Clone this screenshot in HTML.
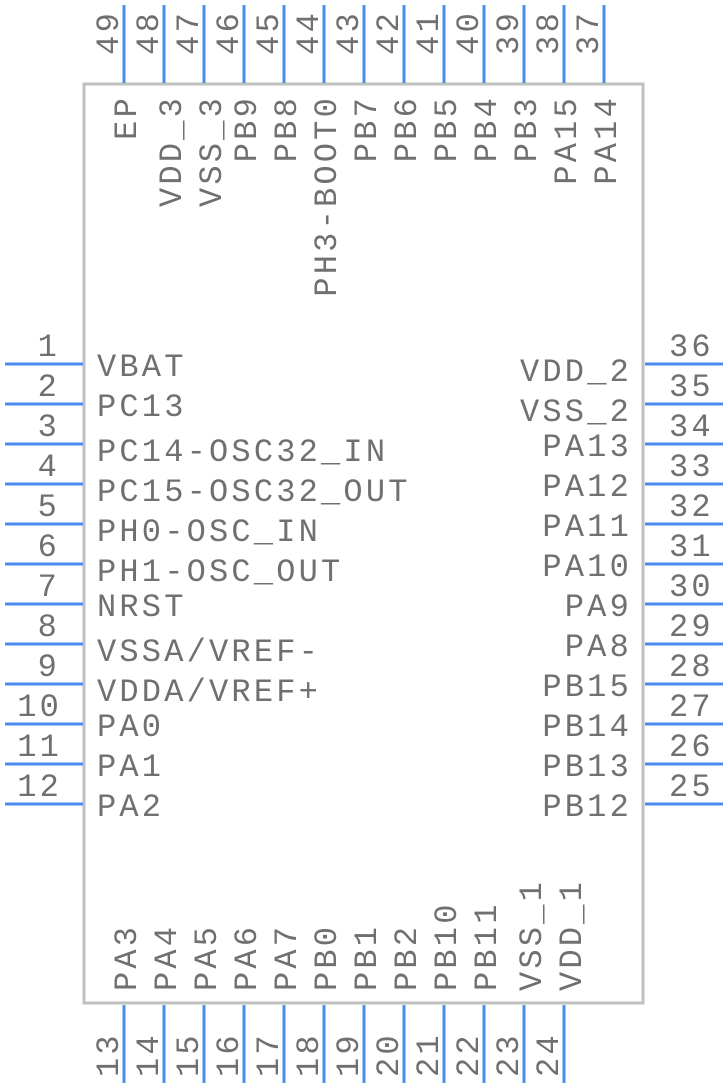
<!DOCTYPE html>
<html><head><meta charset="utf-8"><style>
html,body{margin:0;padding:0;background:#fff;}
svg{display:block;}
text{font-family:"Liberation Mono",monospace;font-size:32px;fill:#707070;letter-spacing:3.2px;}
</style></head><body>
<svg width="728" height="1088" viewBox="0 0 728 1088" xmlns="http://www.w3.org/2000/svg">
<rect x="84" y="84" width="559" height="919" fill="none" stroke="#c0c0c0" stroke-width="3"/>
<g stroke="#4a8cf0" stroke-width="3">
<line x1="5" y1="364" x2="83" y2="364"/><line x1="5" y1="404" x2="83" y2="404"/><line x1="5" y1="444" x2="83" y2="444"/><line x1="5" y1="484" x2="83" y2="484"/><line x1="5" y1="524" x2="83" y2="524"/><line x1="5" y1="564" x2="83" y2="564"/><line x1="5" y1="604" x2="83" y2="604"/><line x1="5" y1="644" x2="83" y2="644"/><line x1="5" y1="684" x2="83" y2="684"/><line x1="5" y1="724" x2="83" y2="724"/><line x1="5" y1="764" x2="83" y2="764"/><line x1="5" y1="804" x2="83" y2="804"/>
<line x1="645" y1="364" x2="723" y2="364"/><line x1="645" y1="404" x2="723" y2="404"/><line x1="645" y1="444" x2="723" y2="444"/><line x1="645" y1="484" x2="723" y2="484"/><line x1="645" y1="524" x2="723" y2="524"/><line x1="645" y1="564" x2="723" y2="564"/><line x1="645" y1="604" x2="723" y2="604"/><line x1="645" y1="644" x2="723" y2="644"/><line x1="645" y1="684" x2="723" y2="684"/><line x1="645" y1="724" x2="723" y2="724"/><line x1="645" y1="764" x2="723" y2="764"/><line x1="645" y1="804" x2="723" y2="804"/>
<line x1="124" y1="5" x2="124" y2="83"/><line x1="164" y1="5" x2="164" y2="83"/><line x1="204" y1="5" x2="204" y2="83"/><line x1="244" y1="5" x2="244" y2="83"/><line x1="284" y1="5" x2="284" y2="83"/><line x1="324" y1="5" x2="324" y2="83"/><line x1="364" y1="5" x2="364" y2="83"/><line x1="404" y1="5" x2="404" y2="83"/><line x1="444" y1="5" x2="444" y2="83"/><line x1="484" y1="5" x2="484" y2="83"/><line x1="524" y1="5" x2="524" y2="83"/><line x1="564" y1="5" x2="564" y2="83"/><line x1="604" y1="5" x2="604" y2="83"/>
<line x1="124" y1="1005" x2="124" y2="1083"/><line x1="164" y1="1005" x2="164" y2="1083"/><line x1="204" y1="1005" x2="204" y2="1083"/><line x1="244" y1="1005" x2="244" y2="1083"/><line x1="284" y1="1005" x2="284" y2="1083"/><line x1="324" y1="1005" x2="324" y2="1083"/><line x1="364" y1="1005" x2="364" y2="1083"/><line x1="404" y1="1005" x2="404" y2="1083"/><line x1="444" y1="1005" x2="444" y2="1083"/><line x1="484" y1="1005" x2="484" y2="1083"/><line x1="524" y1="1005" x2="524" y2="1083"/><line x1="564" y1="1005" x2="564" y2="1083"/>
</g>
<g text-anchor="end">
<text x="60" y="356">1</text><text x="60" y="396">2</text><text x="60" y="436">3</text><text x="60" y="476">4</text><text x="60" y="516">5</text><text x="60" y="556">6</text><text x="60" y="596">7</text><text x="60" y="636">8</text><text x="60" y="676">9</text><text x="62" y="716">10</text><text x="62" y="756">11</text><text x="62" y="796">12</text>
</g>
<g>
<text x="97" y="376">VBAT</text><text x="97" y="416">PC13</text><text x="97" y="461">PC14-OSC32_IN</text><text x="97" y="501">PC15-OSC32_OUT</text><text x="97" y="541">PH0-OSC_IN</text><text x="97" y="581">PH1-OSC_OUT</text><text x="97" y="616">NRST</text><text x="97" y="661">VSSA/VREF-</text><text x="97" y="701">VDDA/VREF+</text><text x="97" y="736">PA0</text><text x="97" y="776">PA1</text><text x="97" y="816">PA2</text>
</g>
<g>
<text x="669" y="356">36</text><text x="669" y="396">35</text><text x="669" y="436">34</text><text x="669" y="476">33</text><text x="669" y="516">32</text><text x="669" y="556">31</text><text x="669" y="596">30</text><text x="669" y="636">29</text><text x="669" y="676">28</text><text x="669" y="716">27</text><text x="669" y="756">26</text><text x="669" y="796">25</text>
</g>
<g text-anchor="end">
<text x="632" y="381">VDD_2</text><text x="632" y="421">VSS_2</text><text x="632" y="456">PA13</text><text x="632" y="496">PA12</text><text x="632" y="536">PA11</text><text x="632" y="576">PA10</text><text x="632" y="616">PA9</text><text x="632" y="656">PA8</text><text x="632" y="696">PB15</text><text x="632" y="736">PB14</text><text x="632" y="776">PB13</text><text x="632" y="816">PB12</text>
</g>
<g text-anchor="end">
<text transform="translate(118,10) rotate(-90)">49</text><text transform="translate(158,10) rotate(-90)">48</text><text transform="translate(198,10) rotate(-90)">47</text><text transform="translate(238,10) rotate(-90)">46</text><text transform="translate(278,10) rotate(-90)">45</text><text transform="translate(318,10) rotate(-90)">44</text><text transform="translate(358,10) rotate(-90)">43</text><text transform="translate(398,10) rotate(-90)">42</text><text transform="translate(438,10) rotate(-90)">41</text><text transform="translate(478,10) rotate(-90)">40</text><text transform="translate(518,10) rotate(-90)">39</text><text transform="translate(558,10) rotate(-90)">38</text><text transform="translate(598,10) rotate(-90)">37</text>
</g>
<g text-anchor="end">
<text transform="translate(136,95) rotate(-90)">EP</text><text transform="translate(181,95) rotate(-90)">VDD_3</text><text transform="translate(221,95) rotate(-90)">VSS_3</text><text transform="translate(256,95) rotate(-90)">PB9</text><text transform="translate(296,95) rotate(-90)">PB8</text><text transform="translate(336,95) rotate(-90)">PH3-BOOT0</text><text transform="translate(376,95) rotate(-90)">PB7</text><text transform="translate(416,95) rotate(-90)">PB6</text><text transform="translate(456,95) rotate(-90)">PB5</text><text transform="translate(496,95) rotate(-90)">PB4</text><text transform="translate(536,95) rotate(-90)">PB3</text><text transform="translate(576,95) rotate(-90)">PA15</text><text transform="translate(616,95) rotate(-90)">PA14</text>
</g>
<g>
<text transform="translate(136,991) rotate(-90)">PA3</text><text transform="translate(176,991) rotate(-90)">PA4</text><text transform="translate(216,991) rotate(-90)">PA5</text><text transform="translate(256,991) rotate(-90)">PA6</text><text transform="translate(296,991) rotate(-90)">PA7</text><text transform="translate(336,991) rotate(-90)">PB0</text><text transform="translate(376,991) rotate(-90)">PB1</text><text transform="translate(416,991) rotate(-90)">PB2</text><text transform="translate(456,991) rotate(-90)">PB10</text><text transform="translate(496,991) rotate(-90)">PB11</text><text transform="translate(541,991) rotate(-90)">VSS_1</text><text transform="translate(581,991) rotate(-90)">VDD_1</text>
</g>
<g>
<text transform="translate(118,1077) rotate(-90)">13</text><text transform="translate(158,1077) rotate(-90)">14</text><text transform="translate(198,1077) rotate(-90)">15</text><text transform="translate(238,1077) rotate(-90)">16</text><text transform="translate(278,1077) rotate(-90)">17</text><text transform="translate(318,1077) rotate(-90)">18</text><text transform="translate(358,1077) rotate(-90)">19</text><text transform="translate(398,1077) rotate(-90)">20</text><text transform="translate(438,1077) rotate(-90)">21</text><text transform="translate(478,1077) rotate(-90)">22</text><text transform="translate(518,1077) rotate(-90)">23</text><text transform="translate(558,1077) rotate(-90)">24</text>
</g>
</svg>
</body></html>
